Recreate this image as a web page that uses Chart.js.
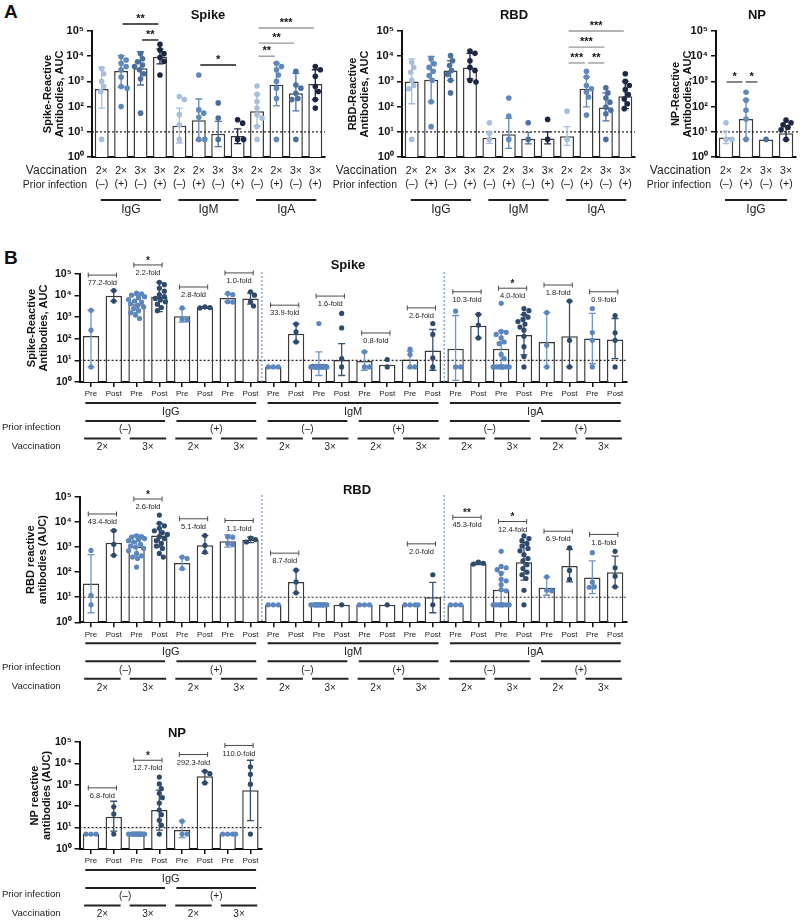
<!DOCTYPE html>
<html><head><meta charset="utf-8">
<script src="https://cdn.jsdelivr.net/npm/chart.js@4/dist/chart.umd.min.js"></script>
<style>
html,body{margin:0;padding:0;background:#fff;}
#wrap{position:relative;width:800px;height:921px;overflow:hidden;font-family:"Liberation Sans",Arial,sans-serif;}
canvas{position:absolute;}
.pl{position:absolute;font-weight:bold;font-size:19px;color:#111;}
</style></head><body>
<div id="wrap">
<div class="pl" style="left:4px;top:1px">A</div>
<div class="pl" style="left:4px;top:247px">B</div>
<canvas id="aS" width="330" height="220" style="left:0px;top:0px"></canvas>
<canvas id="aR" width="310" height="220" style="left:330px;top:0px"></canvas>
<canvas id="aN" width="160" height="220" style="left:640px;top:0px"></canvas>
<canvas id="bS" width="800" height="210" style="left:0px;top:250px"></canvas>
<canvas id="bR" width="800" height="230" style="left:0px;top:470px"></canvas>
<canvas id="bN" width="330" height="209" style="left:0px;top:712px"></canvas>
</div>
<script>
// ---------------- DATA: panel A ----------------
const aVacc  = ['2×','2×','3×','3×','2×','2×','3×','3×','2×','2×','3×','3×'];
const aPrior = ['(–)','(+)','(–)','(+)','(–)','(+)','(–)','(+)','(–)','(+)','(–)','(+)'];
const aGroups = ['IgG','IgM','IgA'];
const aNpGroups = ['IgG'];

const aSpikeMean = [500, 2600, 3300, 9500, 17.5, 29, 8.4, 6.8, 65, 730, 340, 780];
const aSpikeLo   = [87, 590, 720, 5000, 3.6, 4.6, 2.6, 3.4, 17, 107, 68, 190];
const aSpikeHi   = [3600, 10500, 15000, 19000, 87, 200, 26, 13, 310, 5300, 2100, 2900];
const aSpikeDots = [
  [3200, 2000, 1000, 630, 400, 5],
  [9500, 7100, 5200, 3900, 2900, 1500, 630, 540, 100],
  [12600, 7900, 6000, 4500, 3900, 2900, 2000, 1260, 55],
  [29500, 17800, 12600, 8900, 6300, 1800],
  [250, 190, 48, 19, 5],
  [1800, 74, 55, 38, 5, 5],
  [140, 35, 5],
  [30, 22, 5, 5],
  [660, 310, 160, 87, 48, 35, 16, 5],
  [5200, 3900, 2900, 1800, 1000, 540, 210, 5],
  [2500, 720, 540, 340, 210, 190, 5],
  [3900, 2900, 1600, 630, 400, 190, 87]
];
const aSpikeSig = [[1,3,190000,'**',0],[2,3,44000,'**',0],[5,7,4500,'*',0],[8,11,132000,'***',1],[8,10,33000,'**',1],[8,9,10000,'**',1]];

const aRbdMean = [1000, 1150, 2700, 3600, 5.8, 8, 5.3, 5.4, 6.7, 510, 92, 255];
const aRbdLo   = [130, 155, 1100, 1260, 3.5, 2.2, 3.3, 3.3, 2.9, 98, 27, 83];
const aRbdHi   = [7800, 9800, 6600, 13000, 9.5, 34, 9.5, 10, 16, 1500, 350, 1000];
const aRbdDots = [
  [5800, 3600, 2300, 1100, 690, 510, 5],
  [7800, 5000, 3600, 2500, 1700, 1100, 155, 16],
  [10500, 6600, 4300, 2700, 1900, 1100, 350],
  [16000, 13000, 6600, 3600, 2700, 1100, 950],
  [23, 8.7, 5],
  [220, 42, 5],
  [23, 5],
  [31, 5],
  [66, 5],
  [2500, 1500, 690, 510, 380, 240, 46],
  [560, 350, 220, 150, 95, 71, 52, 5],
  [2000, 1000, 690, 470, 300, 200, 130, 83]
];
const aRbdSig = [[8,11,100000,'***',1],[8,10,23000,'***',1],[8,9,5400,'***',1],[9,10,5400,'**',1]];

const aNpVacc  = ['2×','2×','3×','3×'];
const aNpPrior = ['(–)','(+)','(–)','(+)'];
const aNpMean = [5.9, 32, 5, 8.7];
const aNpLo   = [3.4, 5, null, 4.8];
const aNpHi   = [10.7, 190, null, 16];
const aNpDots = [[23, 5, 5], [370, 180, 71, 32, 5], [5], [29, 23, 19, 15, 12, 5]];
const aNpSig = [[-0.05, 0.9, 950, '*', 2], [0.9, 1.65, 950, '*', 2]];

// ---------------- DATA: panel B ----------------
const bLabels = ['Pre','Post','Pre','Post','Pre','Post','Pre','Post','Pre','Post','Pre','Post',
                 'Pre','Post','Pre','Post','Pre','Post','Pre','Post','Pre','Post','Pre','Post'];
const bNpLabels = ['Pre','Post','Pre','Post','Pre','Post','Pre','Post'];
const bGroups = ['IgG','IgM','IgA'];
const bNpGroups = ['IgG'];
const bPriorNames = ['(–)','(+)'];
const bVaccNames = ['2×','3×'];

const bSpikeMean = [135, 9800, 4000, 8900, 1100, 2800, 7700, 7400, 5, 170, 6.8, 10.5, 9.5, 6.3, 11, 29, 35, 400, 35, 150, 72, 132, 102, 93];
const bSpikeLo   = [5, 5600, 1650, 1800, 600, 2600, 5200, 4000, null, 72, 2, 2, 3.5, null, 4.5, 3.5, 1.2, 110, 5, 18, 5, 5, 7, 12];
const bSpikeHi   = [2100, 17000, 10500, 41000, 2500, 3000, 12000, 13000, null, 500, 25, 60, 25, null, 27, 270, 1200, 1350, 230, 1300, 1650, 5600, 1500, 870];
const bSpikeDots = [
  [2100, 250, 5],
  [17000, 5600],
  [13000, 12000, 10500, 8900, 7900, 6600, 5600, 5000, 4200, 3500, 3000, 2500, 2000, 1600, 1260, 870],
  [41000, 32000, 22000, 16000, 11000, 8900, 7400, 6300, 5200, 4000, 2800, 2000],
  [2700, 830, 740],
  [3000, 2800, 2700],
  [12600, 11000, 5200, 5000],
  [15000, 10500, 5200, 3300],
  [5, 5, 5],
  [480, 210, 72],
  [510, 5, 5, 5, 5, 5, 5, 5, 5, 5, 5, 5, 5, 5, 5],
  [1500, 320, 12, 5],
  [25, 5, 5],
  [11, 5],
  [33, 19, 5, 5],
  [510, 160, 13, 5],
  [1900, 5, 5],
  [1350, 430, 110],
  [4400, 220, 200, 160, 110, 71, 60, 19, 12, 5, 5, 5, 5, 5, 5, 5, 5],
  [2500, 2000, 1400, 1000, 790, 630, 480, 350, 250, 130, 43, 15, 5],
  [1650, 50, 5],
  [5600, 85, 5],
  [2500, 195, 85, 5],
  [1200, 190, 85, 5]
];
const bSpikeFold      = ['77.2-fold','2.2-fold','2.8-fold','1.0-fold','33.9-fold','1.6-fold','0.8-fold','2.6-fold','10.3-fold','4.0-fold','1.8-fold','0.9-fold'];
const bSpikeFoldLevel = [89000, 263000, 25000, 112000, 3600, 9500, 186, 2700, 15000, 22000, 31000, 15000];
const bSpikeFoldStar  = ['', '*', '', '', '', '', '', '', '', '*', '', ''];

const bRbdMean = [35, 1500, 1070, 2900, 232, 1180, 1700, 1950, 5, 41, 5, 5, 5, 5, 5, 10, 5, 220, 20, 250, 24, 178, 61, 100];
const bRbdLo   = [2.4, 470, 400, 1000, 130, 560, 1000, 1500, null, 15, null, null, null, null, null, 2.4, null, 200, 5, 48, 12, 41, 14, 26];
const bRbdHi   = [500, 4600, 3100, 8900, 400, 2900, 3100, 2500, null, 120, null, null, null, null, null, 39, null, 250, 100, 1500, 63, 810, 280, 440];
const bRbdDots = [
  [740, 12, 5],
  [4600, 1300, 470],
  [2800, 2600, 2500, 2200, 2000, 1800, 1600, 1300, 1100, 1000, 890, 710, 560, 450, 400, 350, 160],
  [19000, 8900, 7100, 5600, 4500, 3800, 3200, 2600, 2200, 1800, 1400, 1100, 890, 560, 400],
  [400, 350, 140],
  [2900, 1170, 630],
  [2600, 2500, 1400, 1260],
  [2300, 2000, 1600],
  [5, 5, 5],
  [120, 41, 15],
  [5, 5, 5, 5, 5, 5, 5, 5, 5, 5, 5, 5, 5, 5],
  [5],
  [5, 5, 5],
  [5],
  [5, 5, 5, 5],
  [79, 5],
  [5, 5, 5],
  [250, 225, 210],
  [680, 170, 150, 126, 89, 52, 45, 32, 20, 18, 5, 5, 5, 5, 5, 5, 5, 5],
  [2800, 2200, 1800, 1400, 1100, 890, 710, 500, 350, 280, 200, 140, 100, 79, 56, 19, 5],
  [65, 19, 18],
  [930, 117, 52],
  [600, 40, 26, 25],
  [680, 150, 69, 26]
];
const bRbdFold      = ['43.4-fold','2.6-fold','5.1-fold','1.1-fold','8.7-fold','','','2.0-fold','45.3-fold','12.4-fold','6.9-fold','1.6-fold'];
const bRbdFoldLevel = [21000, 83000, 13500, 11500, 575, null, null, 1350, 15500, 10500, 4300, 3200];
const bRbdFoldStar  = ['', '*', '', '', '', '', '', '', '**', '*', '', ''];

const bNpMean = [5, 32, 5, 66, 7.7, 2500, 5, 560];
const bNpLo   = [null, 6.9, null, 7.6, 3.4, 1230, null, 21];
const bNpHi   = [null, 170, null, 560, 20, 4300, null, 14000];
const bNpDots = [
  [5, 5, 5],
  [93, 43, 5],
  [5, 5, 5, 5, 5, 5, 5, 5, 5, 5, 5, 5, 5, 5],
  [2300, 1100, 660, 400, 250, 140, 66, 40, 22, 13, 5],
  [20, 5, 5],
  [4300, 3300, 1230],
  [5, 5, 5, 5],
  [6900, 3100, 1070, 5]
];
const bNpFold      = ['6.8-fold','12.7-fold','292.3-fold','110.0-fold'];
const bNpFoldLevel = [720, 14000, 26000, 69000];
const bNpFoldStar  = ['', '*', '', ''];

const threshold = 10;

// ---------------- STYLE ----------------
const FF = '"Liberation Sans", Arial, Helvetica, sans-serif';
const A_COLORS = ['#a7bfdc', '#5f88bc', '#4a6f9f', '#1c2746'];
const B_DOT = ['#5b86bf', '#2e4a6c'];
const B_ERR = ['#6f95c6', '#34506f'];
const SIGCOL = ['#1a1a1a', '#9a9a9a', '#555555'];
const SUP = ['⁰','¹','²','³','⁴','⁵'];
const DECOR = {};

function swarm(vals, decPx, maxPx, dotPx) {
  const idx = vals.map((v, k) => k).sort((p, q) => vals[q] - vals[p]);
  const placed = [], offs = new Array(vals.length).fill(0);
  const cands = [0];
  for (let s = 1; s <= maxPx; s++) cands.push(s, -s);
  idx.forEach(k => {
    const y = Math.log10(vals[k]) * decPx;
    let best = 0, bestD = -1;
    for (const c of cands) {
      let m = Infinity;
      for (const p of placed) { const d = Math.hypot(p.x - c, p.y - y); if (d < m) m = d; }
      if (m >= dotPx) { best = c; bestD = m; break; }
      if (m > bestD) { bestD = m; best = c; }
    }
    placed.push({x: best, y}); offs[k] = best;
  });
  return offs;
}

function spans(names, size) {
  return names.map((t, g) => ({from: g * size, to: g * size + size - 1, text: t}));
}

const decor = {
  id: 'decor',
  afterDatasetDraw(chart, args) {
    if (args.index !== 0) return;
    const o = DECOR[chart.canvas.id];
    const {ctx, chartArea: a} = chart;
    const xs = chart.scales.x, ys = chart.scales.y;
    const xc = f => xs.getPixelForValue(0) + f * (xs.getPixelForValue(1) - xs.getPixelForValue(0));
    ctx.save();
    ctx.setLineDash([2, 2]); ctx.lineWidth = 1.2; ctx.strokeStyle = '#222';
    const ty = ys.getPixelForValue(threshold);
    ctx.beginPath(); ctx.moveTo(a.left, ty); ctx.lineTo(a.right + (o.thrExt || 0), ty); ctx.stroke();
    ctx.strokeStyle = '#7396c2';
    (o.seps || []).forEach(s => { const x = xc(s); ctx.beginPath(); ctx.moveTo(x, a.top - 2); ctx.lineTo(x, a.bottom); ctx.stroke(); });
    ctx.setLineDash([]);
    o.lo.forEach((lo, i) => {
      const hi = o.hi[i]; if (lo == null || hi == null) return;
      const x = xc(i), y1 = ys.getPixelForValue(lo), y2 = ys.getPixelForValue(hi);
      ctx.strokeStyle = o.errCol[i]; ctx.lineWidth = 1.3;
      ctx.beginPath(); ctx.moveTo(x, y1); ctx.lineTo(x, y2);
      ctx.moveTo(x - o.cap, y1); ctx.lineTo(x + o.cap, y1);
      ctx.moveTo(x - o.cap, y2); ctx.lineTo(x + o.cap, y2); ctx.stroke();
    });
    ctx.restore();
  },
  afterDraw(chart) {
    const o = DECOR[chart.canvas.id];
    const {ctx, chartArea: a} = chart;
    const xs = chart.scales.x, ys = chart.scales.y;
    const xc = f => xs.getPixelForValue(0) + f * (xs.getPixelForValue(1) - xs.getPixelForValue(0));
    ctx.save();
    ctx.textAlign = 'center'; ctx.textBaseline = 'middle'; ctx.fillStyle = '#111';
    ctx.font = `bold 13px ${FF}`;
    ctx.fillText(o.title, o.titleX, o.titleY);
    (o.sig || []).forEach(([f, t, lev, txt, c]) => {
      const y = ys.getPixelForValue(lev);
      ctx.strokeStyle = SIGCOL[c]; ctx.lineWidth = 1.4;
      ctx.beginPath(); ctx.moveTo(xc(f + 0.08), y); ctx.lineTo(xc(t - 0.08), y); ctx.stroke();
      ctx.fillStyle = '#111'; ctx.font = `bold 11px ${FF}`;
      ctx.fillText(txt, (xc(f) + xc(t)) / 2, y - 5);
    });
    (o.fold || []).forEach((txt, k) => {
      if (!txt) return;
      const i = 2 * k, y = ys.getPixelForValue(o.foldLevel[k]);
      const x1 = xc(i - 0.12), x2 = xc(i + 1.12);
      ctx.strokeStyle = '#4a4a4a'; ctx.lineWidth = 1;
      ctx.beginPath(); ctx.moveTo(x1, y); ctx.lineTo(x2, y);
      ctx.moveTo(x1, y - 2.5); ctx.lineTo(x1, y + 2.5);
      ctx.moveTo(x2, y - 2.5); ctx.lineTo(x2, y + 2.5); ctx.stroke();
      ctx.fillStyle = '#222'; ctx.font = `7.5px ${FF}`;
      ctx.fillText(txt, (x1 + x2) / 2, y + 8);
      if (o.foldStar[k]) { ctx.font = `bold 10px ${FF}`; ctx.fillText(o.foldStar[k], (x1 + x2) / 2, y - 4); }
    });
    ctx.strokeStyle = '#222'; ctx.fillStyle = '#222'; ctx.lineWidth = 2;
    const hline = (f, t, y) => { ctx.beginPath(); ctx.moveTo(f, y); ctx.lineTo(t, y); ctx.stroke(); };
    if (o.panel === 'A') {
      ctx.font = `12px ${FF}`;
      o.groups.forEach(g => {
        hline(xc(g.from - 0.05), xc(g.to + 0.05), a.bottom + 43);
        ctx.fillText(g.text, (xc(g.from) + xc(g.to)) / 2, a.bottom + 53);
      });
      ctx.textAlign = 'right';
      ctx.font = `12px ${FF}`; ctx.fillText('Vaccination', a.left - 5, a.bottom + 14);
      ctx.font = `10.5px ${FF}`; ctx.fillText('Prior infection', a.left - 5, a.bottom + 28);
    } else {
      ctx.font = `11px ${FF}`;
      o.groups.forEach(g => {
        hline(xc(g.from - 0.25), xc(g.to + 0.25), a.bottom + 21);
        ctx.fillText(g.text, (xc(g.from) + xc(g.to)) / 2, a.bottom + 30);
      });
      ctx.font = `10px ${FF}`;
      o.priors.forEach(g => {
        hline(xc(g.from - 0.25), xc(g.to + 0.25), a.bottom + 39);
        ctx.fillText(g.text, (xc(g.from) + xc(g.to)) / 2, a.bottom + 47.5);
      });
      o.vaccs.forEach(g => {
        hline(xc(g.from - 0.3), xc(g.to + 0.3), a.bottom + 56.5);
        ctx.fillText(g.text, (xc(g.from) + xc(g.to)) / 2, a.bottom + 65.5);
      });
      ctx.textAlign = 'right'; ctx.font = `9.6px ${FF}`;
      ctx.fillText('Prior infection', a.left - 19, a.bottom + 45);
      ctx.fillText('Vaccination', a.left - 19, a.bottom + 64);
    }
    ctx.restore();
  }
};

function build(id, L, D) {
  const n = D.labels.length;
  const pts = [], cols = [];
  D.dots.forEach((vals, i) => {
    const offs = swarm(vals, L.decPx, L.maxPx, L.dotPx);
    vals.forEach((v, k) => { pts.push({x: i + offs[k] / L.catPx, y: v}); cols.push(D.dotCol[i]); });
  });
  DECOR[id] = Object.assign({lo: D.lo, hi: D.hi, errCol: D.errCol}, D.decor);
  const isB = D.decor.panel === 'B';
  return new Chart(document.getElementById(id), {
    type: 'bar',
    data: {
      labels: D.labels,
      datasets: [
        {type: 'bar', data: D.mean, xAxisID: 'x', yAxisID: 'y', backgroundColor: '#ffffff', borderColor: '#3a3a3a',
         borderWidth: 1.5, borderSkipped: 'start', barPercentage: 0.72, categoryPercentage: 1, grouped: false, order: 2},
        {type: 'scatter', data: pts, xAxisID: 'xj', yAxisID: 'y', pointRadius: L.dotR, pointHoverRadius: L.dotR,
         pointBackgroundColor: cols, pointBorderWidth: 0, order: 1}
      ]
    },
    plugins: [decor],
    options: {
      responsive: false, animation: false, events: [],
      layout: {padding: {left: L.padLeft, top: L.padTop, right: L.padRight, bottom: 0}},
      plugins: {legend: {display: false}, tooltip: {enabled: false}},
      scales: {
        x: {type: 'category', offset: true, position: 'bottom',
            afterFit: s => { s.height = L.xAxisH; },
            ticks: {font: {family: FF, size: L.xFont, lineHeight: 1.3}, color: '#1a1a1a', padding: L.xPad,
                    autoSkip: false, maxRotation: 0, minRotation: 0},
            grid: {display: isB, drawOnChartArea: false, drawTicks: isB, tickLength: 5, color: '#111', lineWidth: 1.5, offset: false},
            border: {display: true, color: '#111', width: 2}},
        xj: {type: 'linear', axis: 'x', position: 'bottom', min: -0.5, max: n - 0.5, offset: false, display: false,
             grid: {offset: false}},
        y: {type: 'logarithmic', min: 1, max: 100000,
            afterBuildTicks: s => { s.ticks = [1, 10, 100, 1000, 10000, 100000].map(v => ({value: v})); },
            afterFit: s => { s.width = L.yAxisW; },
            ticks: {callback: v => '10' + SUP[Math.round(Math.log10(v))], font: {family: FF, size: L.yFont, weight: 'bold'}, color: '#111', padding: 3},
            grid: {display: true, drawOnChartArea: false, drawTicks: true, tickLength: 5, color: '#111', lineWidth: 1.5},
            border: {display: true, color: '#111', width: 2},
            title: {display: true, text: L.yTitle, color: '#111', padding: {top: 4, bottom: 4},
                    font: {family: FF, size: 11, weight: 'bold', lineHeight: 1.1}}}
      }
    }
  });
}

const LA = {xAxisH: 63, padTop: 31, decPx: 25.2, maxPx: 7, dotPx: 5.4, dotR: 2.8, xFont: 10.5, xPad: 7, yFont: 11};
const LB = {maxPx: 8, dotPx: 5, dotR: 2.6, xFont: 8, xPad: 2, yFont: 10.5, catPx: 22.78};

const aDotCol = aVacc.map((v, i) => A_COLORS[i % 4]);
const bDotCol = bLabels.map((v, i) => B_DOT[i % 2]);
const bErrCol = bLabels.map((v, i) => B_ERR[i % 2]);

build('aS', Object.assign({}, LA, {padLeft: 38, padRight: 5, yAxisW: 54, catPx: 19.4, yTitle: ['Spike-Reactive', 'Antibodies, AUC']}), {
  labels: aVacc.map((v, i) => [v, aPrior[i]]), mean: aSpikeMean, lo: aSpikeLo, hi: aSpikeHi, dots: aSpikeDots,
  dotCol: aDotCol, errCol: aDotCol,
  decor: {panel: 'A', title: 'Spike', titleX: 208, titleY: 15, cap: 3.5, sig: aSpikeSig, groups: spans(aGroups, 4)}
});
build('aR', Object.assign({}, LA, {padLeft: 13, padRight: 5, yAxisW: 59, catPx: 19.4, yTitle: ['RBD-Reactive', 'Antibodies, AUC']}), {
  labels: aVacc.map((v, i) => [v, aPrior[i]]), mean: aRbdMean, lo: aRbdLo, hi: aRbdHi, dots: aRbdDots,
  dotCol: aDotCol, errCol: aDotCol,
  decor: {panel: 'A', title: 'RBD', titleX: 184, titleY: 15, cap: 3.5, sig: aRbdSig, groups: spans(aGroups, 4)}
});
build('aN', Object.assign({}, LA, {padLeft: 26, padRight: 3, yAxisW: 50, catPx: 20.25, yTitle: ['NP-Reactive', 'Antibodies, AUC']}), {
  labels: aNpVacc.map((v, i) => [v, aNpPrior[i]]), mean: aNpMean, lo: aNpLo, hi: aNpHi, dots: aNpDots,
  dotCol: A_COLORS, errCol: A_COLORS,
  decor: {panel: 'A', title: 'NP', titleX: 117, titleY: 15, cap: 3.5, sig: aNpSig, groups: spans(aNpGroups, 4), thrExt: 3}
});

function bDecor(title, tx, ty, fold, lvl, star, groups, seps) {
  const pr = [], vc = [];
  groups.forEach((g, gi) => {
    bPriorNames.forEach((p, pi) => {
      const s = gi * 8 + pi * 4;
      pr.push({from: s, to: s + 3, text: p});
      bVaccNames.forEach((v, vi) => vc.push({from: s + vi * 2, to: s + vi * 2 + 1, text: v}));
    });
  });
  return {panel: 'B', title, titleX: tx, titleY: ty, cap: 3.5, fold, foldLevel: lvl, foldStar: star,
          groups: spans(groups, 8), priors: pr, vaccs: vc, seps};
}

build('bS', Object.assign({}, LB, {padLeft: 22, padTop: 24, padRight: 173.5, yAxisW: 57.6, xAxisH: 78, decPx: 21.6, yTitle: ['Spike-Reactive', 'Antibodies, AUC']}), {
  labels: bLabels, mean: bSpikeMean, lo: bSpikeLo, hi: bSpikeHi, dots: bSpikeDots, dotCol: bDotCol, errCol: bErrCol,
  decor: bDecor('Spike', 348, 15, bSpikeFold, bSpikeFoldLevel, bSpikeFoldStar, bGroups, [7.5, 15.5])
});
build('bR', Object.assign({}, LB, {padLeft: 21, padTop: 27, padRight: 173.5, yAxisW: 58.6, xAxisH: 77.7, decPx: 25.1, yTitle: ['RBD reactive', 'antibodies (AUC)']}), {
  labels: bLabels, mean: bRbdMean, lo: bRbdLo, hi: bRbdHi, dots: bRbdDots, dotCol: bDotCol, errCol: bErrCol,
  decor: bDecor('RBD', 357, 20, bRbdFold, bRbdFoldLevel, bRbdFoldStar, bGroups, [7.5, 15.5])
});
build('bN', Object.assign({}, LB, {padLeft: 25, padTop: 30, padRight: 68.2, yAxisW: 54.6, xAxisH: 72, decPx: 21.4, yTitle: ['NP reactive', 'antibodies (AUC)']}), {
  labels: bNpLabels, mean: bNpMean, lo: bNpLo, hi: bNpHi, dots: bNpDots, dotCol: bDotCol.slice(0, 8), errCol: bErrCol.slice(0, 8),
  decor: bDecor('NP', 177, 21, bNpFold, bNpFoldLevel, bNpFoldStar, bNpGroups, [])
});
</script>
</body></html>
